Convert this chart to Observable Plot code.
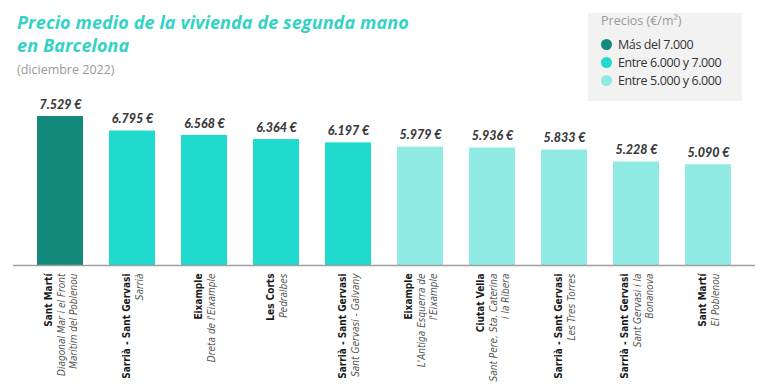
<!DOCTYPE html>
<html><head><meta charset="utf-8">
<script src="https://cdn.jsdelivr.net/npm/d3@7"></script>
<script src="https://cdn.jsdelivr.net/npm/@observablehq/plot@0.6"></script>
<style>
body{margin:0;background:#fff;}
#wrap{position:relative;width:768px;height:387px;overflow:hidden;}
#chart{position:absolute;left:0;top:0;}
#title{position:absolute;left:17px;top:11px;font:italic 700 18px/23px 'Open Sans',sans-serif;color:#33d2c5;letter-spacing:0.1px;}
#sub{position:absolute;left:17px;top:61px;font:400 12.5px 'Open Sans',sans-serif;color:#9a9a9a;}
#legend{position:absolute;left:588px;top:13px;width:154px;height:88px;background:#f2f2f2;font-family:'Open Sans',sans-serif;}
#legend .lt{position:absolute;left:13px;top:-1px;font-size:12.5px;color:#9a9a9a;}
#legend .it{position:absolute;left:13px;height:18px;font-size:12.5px;color:#333;letter-spacing:-0.4px;white-space:nowrap;}
#legend .dot{display:inline-block;width:11px;height:11px;border-radius:50%;margin-right:6px;vertical-align:-1px;}
</style></head>
<body>
<div id="wrap">
  <div id="chart"></div>
  <div id="title">Precio medio de la vivienda de segunda mano<br>en Barcelona</div>
  <div id="sub">(diciembre 2022)</div>
  <div id="legend"></div>
</div>
<script>
const districts = ["Sant Martí","Sarrià - Sant Gervasi","Eixample","Les Corts","Sarrià - Sant Gervasi","Eixample","Ciutat Vella","Sarrià - Sant Gervasi","Sarrià - Sant Gervasi","Sant Martí"];
const neighborhoods = ["Diagonal Mar i el Front\nMarítim del Poblenou","Sarrià","Dreta de l'Eixample","Pedralbes","Sant Gervasi - Galvany","L'Antiga Esquerra de\nl'Eixample","Sant Pere, Sta. Caterina\ni la Ribera","Les Tres Torres","Sant Gervasi i la\nBonanova","El Poblenou"];
const prices = [7529,6795,6568,6364,6197,5979,5936,5833,5228,5090];
const tierNames = ["Más del 7.000","Entre 6.000 y 7.000","Entre 5.000 y 6.000"];
const tierColors = ["#148a7d","#1fdacd","#8eeae3"];
const tiers = [0,1,1,1,1,2,2,2,2,2];

const fmt = d3.formatLocale({thousands:".", decimal:",", grouping:[3], currency:["","€"]}).format(",");
const data = prices.map((p,i)=>{
  const sub = neighborhoods[i].split("\n");
  return {i, district:districts[i], sub, price:p, tier:tierNames[tiers[i]]};
});
const labelFont = "'Liberation Sans Narrow','DejaVu Sans Condensed',sans-serif";

const chart = Plot.plot({
  width:768, height:387, marginLeft:13, marginRight:13, marginTop:0, marginBottom:0,
  x:{domain:d3.range(prices.length), range:[13,755], paddingInner:0.366, paddingOuter:0.3, axis:null},
  y:{domain:[0,8000], range:[265, 265-8000*149/7529], axis:null},
  color:{domain:tierNames, range:tierColors},
  style:{background:"transparent", overflow:"visible"},
  marks:[
    Plot.barY(data,{x:"i", y:"price", fill:"tier"}),
    Plot.ruleY([0],{stroke:"#a0a0a0", strokeWidth:1.5}),
    Plot.text(data,{x:"i", y:"price", text:d=>fmt(d.price)+" €", dy:-8, lineAnchor:"bottom",
      fontFamily:"Lato,sans-serif", fontWeight:900, fontStyle:"italic", fontSize:12.5, fill:"#3b3b3b"}),
    Plot.text(data,{x:"i", y:0, text:d=>d.district + "\n\u00a0".repeat(d.sub.length), rotate:-90,
      textAnchor:"end", lineAnchor:"middle", lineHeight:1.25, dy:8,
      fontFamily:labelFont, fontWeight:700, fontSize:10, fill:"#1a1a1a"}),
    Plot.text(data,{x:"i", y:0, text:d=>"\u00a0\n" + d.sub.join("\n"), rotate:-90,
      textAnchor:"end", lineAnchor:"middle", lineHeight:1.25, dy:8,
      fontFamily:labelFont, fontStyle:"italic", fontSize:10, fill:"#555"})
  ]
});
document.getElementById("chart").appendChild(chart);

const lg = document.getElementById("legend");
lg.innerHTML = '<div class="lt">Precios (€/m²)</div>' + tierNames.map((t,k)=>
  `<div class="it" style="top:${23+k*18}px"><span class="dot" style="background:${tierColors[k]}"></span>${t}</div>`).join("");
</script>
</body></html>
